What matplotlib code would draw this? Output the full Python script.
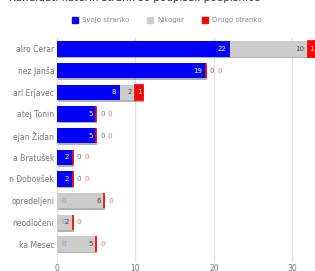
import matplotlib
matplotlib.use("Agg")
import matplotlib.pyplot as plt
import matplotlib.patheffects as pe
from matplotlib.patches import Patch

names = ["alro Cerar", "nez Janša", "arl Erjavec", "atej Tonin", "ejan Židan",
         "a Bratušek", "n Dobovšek", "opredeljeni", "neodločeni", "ka Mesec"]
svojo = [22, 19, 8, 5, 5, 2, 2, 0, 0, 0]
nikogar = [10, 0, 2, 0, 0, 0, 0, 6, 2, 5]
drugo = [1, 0, 1, 0, 0, 0, 0, 0, 0, 0]
series_names = ["Svojo stranko", "Nikogar", "Drugo stranko"]
title = "Kandidati katerih strank so podpisali podpisnice"

colors = ["#0000ff", "#cccccc", "#ff0000"]
in_colors = ["white", "#444444", "white"]
zero_colors = ["#8c8cff", "#777777", "#ff7070"]

fig = plt.figure(figsize=(3.15, 2.71), dpi=100)
ax = fig.add_axes([57 / 315, 1 - 262 / 271, 1 - 57 / 315, 225 / 271])

shadow = [pe.SimplePatchShadow(offset=(0.6, -1.2), shadow_rgbFace="#555555", alpha=0.45), pe.Normal()]

y = list(range(len(names)))
left = [0] * len(names)
zero_count = [0] * len(names)
for k, vals in enumerate([svojo, nikogar, drugo]):
    if k == 2:
        bars = ax.barh(y, vals, left=left, height=0.7, color=colors[k],
                       edgecolor=colors[k], linewidth=1.2, zorder=3)
    else:
        bars = ax.barh(y, vals, left=left, height=0.7, color=colors[k],
                       linewidth=0, zorder=3)
    for b in bars:
        b.set_path_effects(shadow)
    for i, v in enumerate(vals):
        end = left[i] + v
        if v > 0:
            if k == 2:
                ax.annotate(str(v), (left[i] + v / 2, i), ha="center", va="center",
                            fontsize=5, color=in_colors[k], zorder=5)
            else:
                ax.annotate(str(v), (end, i), xytext=(-2.5, 0), textcoords="offset points",
                            ha="right", va="center", fontsize=5, color=in_colors[k], zorder=5)
        else:
            stack_end = svojo[i] + nikogar[i] + drugo[i] if k > 0 else 0
            off = 4.5 + 5.5 * zero_count[i] if k > 0 else 4.5
            ax.annotate("0", (stack_end, i), xytext=(off, 0), textcoords="offset points",
                        ha="center", va="center", fontsize=5, color=zero_colors[k], zorder=5)
            if k > 0:
                zero_count[i] += 1
        left[i] = end

ax.set_xlim(0, 32.9)
ax.set_ylim(len(names) - 1 + 0.83, -0.55)
ax.set_yticks(y)
ax.set_yticklabels(names, fontsize=5.5, color="#777777")
ax.set_xticks([0, 10, 20, 30])
ax.set_xticklabels(["0", "10", "20", "30"], fontsize=5.5, color="#777777")
ax.tick_params(axis="y", length=0, pad=2)
ax.tick_params(axis="x", length=0, pad=1.5)
ax.grid(axis="x", color="#e4e4e4", linewidth=0.9, zorder=0)
for s in ["top", "right", "bottom"]:
    ax.spines[s].set_visible(False)
ax.spines["left"].set_color("#cccccc")
ax.spines["left"].set_zorder(1)

handles = [Patch(color=c) for c in colors]
fig.legend(handles, series_names, loc="center", bbox_to_anchor=(0.53, 1 - 20 / 271),
           ncol=3, frameon=False, fontsize=5, handlelength=0.9, handleheight=0.9,
           handletextpad=0.6, columnspacing=2.5, labelcolor="#888888")

fig.text(0.03, 1.008, title, fontsize=7.5, color="#333333", ha="left", va="center")

fig.savefig("out.png", dpi=100)
